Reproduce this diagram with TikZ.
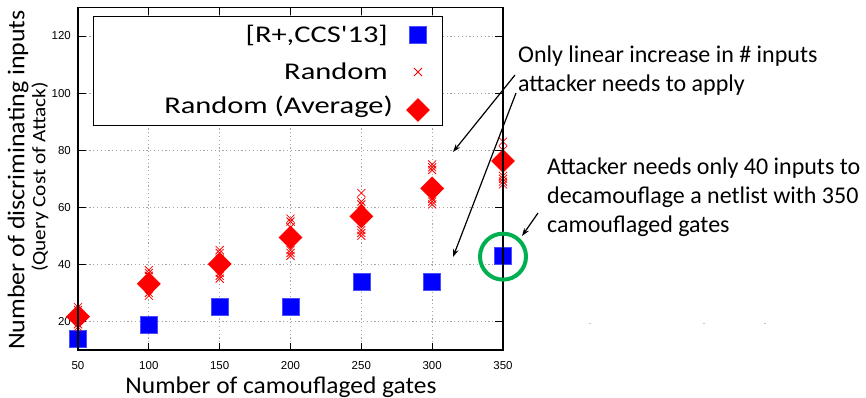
\documentclass[tikz,border=0pt]{standalone}
\usepackage{graphicx}
\usepackage{fontspec}
\setmainfont{Carlito}
\newfontfamily\legendfont{Carlito}[Ligatures=TeXOff]
\newfontfamily\tickfont{Liberation Sans}
\usetikzlibrary{arrows.meta,shapes.geometric}

\definecolor{sqblue}{RGB}{0,0,255}
\definecolor{ringgreen}{RGB}{0,176,80}

\tikzset{
  gridline/.style={gray!70, line width=0.8pt, dash pattern=on 1.2pt off 2.6pt},
  frame/.style={black, line width=1.1pt},
  tickline/.style={black, line width=0.8pt},
  ticklabel/.style={font=\tickfont\fontsize{11.5}{13}\selectfont, inner sep=0pt},
  sqmark/.style={rectangle, fill=sqblue, draw=sqblue!70!white, line width=0.4pt, minimum size=17pt, inner sep=0pt},
  diamark/.style={diamond, fill=red, draw=none, minimum width=24pt, minimum height=24pt, inner sep=0pt},
  crossmark/.style={red, line width=0.8pt},
  legendtext/.style={font=\legendfont\fontsize{24}{28}\selectfont, anchor=east, inner sep=0pt},
  axistitle/.style={font=\fontsize{24}{28}\selectfont, inner sep=0pt},
  note/.style={font=\fontsize{24}{28.8}\selectfont, align=left, anchor=west, inner sep=0pt},
  callout/.style={black, line width=1.2pt, -{Stealth[length=8pt,width=5.5pt]}},
  ring/.style={circle, draw=ringgreen, line width=4pt, minimum size=46pt, inner sep=0pt}
}

\begin{document}
\begin{tikzpicture}[x=1pt,y=-1pt]
\useasboundingbox (0,0) rectangle (866,398);
\fill[white] (0,0) rectangle (866,398);

% ---- plot area in data coordinates (gates, inputs) ----
\begin{scope}[shift={(7.1667,378.55)}, x=1.41667pt, y=2.855pt]
  \foreach \gx in {100,150,...,300}
    \draw[gridline] (\gx,10) -- (\gx,130);
  \foreach \gy in {20,40,...,120}
    \draw[gridline] (50,\gy) -- (350,\gy);
\end{scope}

% legend frame hides the grid behind it
\draw[black, line width=1pt, fill=white] (93,17) rectangle (442,126);

\begin{scope}[shift={(7.1667,378.55)}, x=1.41667pt, y=2.855pt]
  % ticks and tick labels
  \foreach \gx in {50,100,...,350} {
    \draw[tickline] (\gx,10) -- ++(0pt,7pt);
    \draw[tickline] (\gx,130) -- ++(0pt,-8pt);
    \node[ticklabel] (xl\gx) at (\gx,10) [yshift=-16pt] {\gx};
  }
  \foreach \gy in {20,40,...,120} {
    \draw[tickline] (50,\gy) -- ++(8pt,0pt);
    \draw[tickline] (350,\gy) -- ++(-8pt,0pt);
    \node[ticklabel, anchor=east] (yl\gy) at (50,\gy) [xshift=-7pt] {\gy};
  }

  % [R+,CCS'13]
  \foreach \sx/\sy [count=\k] in {50/14,100/19,150/25,200/25,250/34,300/34,350/43}
    \node[sqmark] (sq\k) at (\sx,\sy) {};

  % Random runs
  \foreach \cx/\cy in {
      50/25,50/24,50/22,50/19,50/18,
      100/38,100/37,100/36,100/30,100/29,
      150/45,150/44,150/42,150/37,150/36,150/35,
      200/56,200/55,200/53,200/45,200/44,200/43,
      250/65,250/62,250/61,250/52,250/51,250/50,
      300/75,300/74,300/73,300/63,300/62,300/61,
      350/83,350/80,350/71,350/70,350/69,350/68}
    \draw[crossmark] (\cx,\cy) ++(-4pt,-4pt) -- ++(8pt,8pt) ++(-8pt,0pt) -- ++(8pt,-8pt);

  % Random (Average)
  \foreach \dx/\dy [count=\k] in {50/21.7,100/33.2,150/40.1,200/49.4,250/56.8,300/66.6,350/76.2}
    \node[diamark] (dm\k) at (\dx,\dy) {};

  \draw[frame] (50,10) rectangle (350,130);

  \node[ring] (ring) at (350,42.7) {};
\end{scope}

% ---- legend ----
\node[legendtext] (lg1) at (388,35) {\scalebox{1.27}[1]{[R+,CCS'13]}};
\node[legendtext] (lg2) at (388,71) {\scalebox{1.27}[1]{Random}};
\node[legendtext] (lg3) at (393,107) {\scalebox{1.27}[1]{Random (Average)}};
\node[sqmark] (lgsq) at (418,35) {};
\draw[crossmark] (418,72) ++(-4pt,-4pt) -- ++(8pt,8pt) ++(-8pt,0pt) -- ++(8pt,-8pt);
\node[diamark] (lgdm) at (418,110) {};

% ---- axis titles ----
\node[axistitle] (xt) at (281,387) {\scalebox{1.06}[1]{Number of camouflaged gates}};
\node[axistitle, rotate=90] (yt) at (18,180) {\scalebox{1.08}[1]{Number of discriminating inputs}};
\node[font=\fontsize{19}{22}\selectfont, inner sep=0pt, rotate=90] (yt2) at (40,177) {\scalebox{1.12}[1]{(Query Cost of Attack)}};

% ---- annotations ----
\node[note] (n1) at (518,71) {Only linear increase in \# inputs\\attacker needs to apply};
\node[note] (n2) at (547,197) {Attacker needs only 40 inputs to\\decamouflage a netlist with 350\\camouflaged gates};

\coordinate (s1) at (515,75);
\coordinate (s2) at (516,93);
\coordinate (s3) at (538,213);
\coordinate (e1) at (453,152);
\coordinate (e2) at (453,257);
\coordinate (e3) at (522,236);
\draw[callout] (s1) -- (e1);
\draw[callout] (s2) -- (e2);
\draw[callout] (s3) -- (e3);

% faint specks below the second note
\foreach \mx in {590,704,765}
  \draw[gray!45, line width=1pt] (\mx-1,323) -- (\mx+1,323);
\end{tikzpicture}
\end{document}
